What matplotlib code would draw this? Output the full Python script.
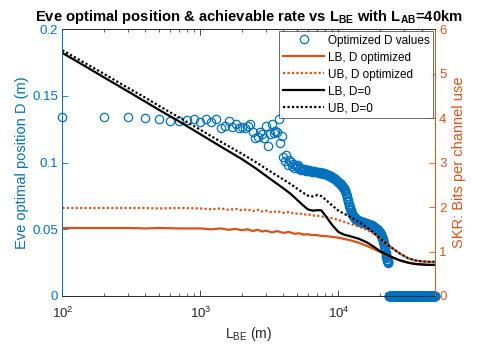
import numpy as np
import matplotlib
matplotlib.use("Agg")
import matplotlib.pyplot as plt
from matplotlib.ticker import FixedLocator, LogLocator, NullFormatter

plt.rcParams['font.family'] = ['Liberation Sans', 'DejaVu Sans']
plt.rcParams['mathtext.fontset'] = 'custom'
plt.rcParams['mathtext.rm'] = 'Liberation Sans'
plt.rcParams['mathtext.it'] = 'Liberation Sans:italic'
plt.rcParams['mathtext.bf'] = 'Liberation Sans:bold'

# ---------------- data ----------------
# scatter: Eve optimal position D (m) at L_BE = 100, 200, ..., 50000 m
L_scatter = np.arange(100, 50001, 100)
D_positive = [
    .1345, .1345, .1343, .1333, .1330, .1312, .1310, .1322, .1325, .1305,
    .1328, .1303, .1325, .1258, .1277, .1313, .1270, .1288, .1258, .1270,
    .1258, .1277, .1288, .1232, .1183, .1195, .1228, .1215, .1187, .1277,
    .1127, .1213, .1288, .1220, .1240, .1228, .1328, .1145, .1200, .1040,
    .1015, .1060, .0985, .1020, .1005, .0975, .0990, .0960, .0980, .0965,
    .0985, .0955, .0960, .0948, .0952, .0945, .0950, .0940, .0945, .0940,
    .0942, .0935, .0940, .0933, .0938, .0930, .0935, .0932, .0928, .0930,
    .0928, .0925, .0928, .0922, .0925, .0920, .0922, .0918, .0920, .0915,
    .0915, .0912, .0910, .0908, .0905, .0903, .0900, .0897, .0893, .0890,
    .0888, .0885, .0882, .0878, .0874, .0870, .0866, .0862, .0858, .0854,
    .0850, .0846, .0842, .0838, .0833, .0828, .0823, .0818, .0812, .0806,
    .0798, .0788, .0776, .0762, .0748, .0734, .0720, .0706, .0692, .0678,
    .0666, .0654, .0643, .0633, .0624, .0616, .0609, .0602, .0596, .0591,
    .0587, .0583, .0580, .0577, .0574, .0572, .0570, .0568, .0566, .0564,
    .0562, .0561, .0560, .0559, .0558, .0557, .0556, .0555, .0554, .0553,
    .0552, .0551, .0550, .0549, .0548, .0547, .0546, .0545, .0544, .0543,
    .0542, .0541, .0540, .0539, .0538, .0537, .0536, .0535, .0534, .0533,
    .0532, .0531, .0530, .0529, .0528, .0527, .0525, .0523, .0521, .0519,
    .0517, .0515, .0513, .0511, .0509, .0507, .0505, .0503, .0501, .0499,
    .0497, .0495, .0493, .0491, .0489, .0486, .0483, .0480, .0477, .0473,
    .0469, .0465, .0461, .0456, .0451, .0446, .0440, .0434, .0427, .0420,
    .0412, .0404, .0396, .0387, .0378, .0368, .0358, .0347, .0336, .0325,
    .0314, .0303, .0292, .0282, .0273, .0266, .0260, .0256, .0253, .0251,
]
D_zero = [0.0] * 270
D_values = D_positive + D_zero

# rate curves with D = 0 (bits per channel use)
L_d0 = [100, 150, 200, 300, 400, 500, 700, 1000, 1500, 2000, 2500, 3000, 3500,
        4000, 4500, 5000, 5500, 6000, 6500, 7000, 7500, 8000, 9000, 10000,
        11000, 12000, 14000, 16000, 18000, 20000, 22000, 25000, 28000, 32000,
        36000, 40000, 45000, 50000]
LB_d0 = [5.47, 5.15, 4.92, 4.60, 4.37, 4.19, 3.93, 3.64, 3.31, 3.08, 2.88, 2.70,
         2.55, 2.42, 2.30, 2.17, 2.05, 1.95, 1.92, 1.93, 1.93, 1.82, 1.60, 1.44,
         1.38, 1.35, 1.29, 1.21, 1.11, 1.01, 0.94, 0.86, 0.80, 0.75, 0.72, 0.71,
         0.70, 0.70]
UB_d0 = [5.53, 5.22, 5.00, 4.68, 4.46, 4.28, 4.02, 3.74, 3.42, 3.20, 3.02, 2.86,
         2.73, 2.62, 2.52, 2.42, 2.33, 2.26, 2.24, 2.27, 2.25, 2.18, 2.04, 1.92,
         1.85, 1.79, 1.67, 1.55, 1.42, 1.30, 1.19, 1.06, 0.95, 0.85, 0.80, 0.78,
         0.77, 0.77]

# rate curves with D optimized
L_opt = [100, 200, 300, 400, 500, 700, 1000, 1200, 1400, 1600, 1800, 2000, 2200,
         2400, 2600, 2800, 3000, 3300, 3600, 4000, 4400, 4800, 5200, 5600, 6000,
         6500, 7000, 7500, 8000, 9000, 10000, 12000, 14000, 16000, 18000, 20000,
         22000, 25000, 28000, 32000, 36000, 40000, 45000, 50000]
LB_opt = [1.53, 1.53, 1.53, 1.52, 1.53, 1.52, 1.52, 1.50, 1.52, 1.49, 1.51, 1.48,
          1.50, 1.46, 1.49, 1.45, 1.47, 1.43, 1.46, 1.42, 1.44, 1.40, 1.41, 1.38,
          1.39, 1.37, 1.37, 1.35, 1.35, 1.33, 1.31, 1.26, 1.20, 1.13, 1.06, 0.99,
          0.93, 0.86, 0.80, 0.75, 0.72, 0.71, 0.70, 0.70]
UB_opt = [1.98, 1.98, 1.98, 1.98, 1.97, 1.98, 1.97, 1.95, 1.97, 1.94, 1.96, 1.93,
          1.95, 1.91, 1.94, 1.90, 1.92, 1.88, 1.91, 1.87, 1.89, 1.85, 1.86, 1.83,
          1.84, 1.81, 1.81, 1.79, 1.78, 1.75, 1.71, 1.63, 1.56, 1.49, 1.40, 1.30,
          1.19, 1.06, 0.95, 0.85, 0.80, 0.78, 0.77, 0.77]

BLUE = '#0072BD'
ORANGE = '#D95319'
DARK = '#262626'

fig = plt.figure(figsize=(4.8, 3.49), dpi=100)
ax = fig.add_axes([0.1298, 0.1519, 0.7762, 0.7641])
ax2 = ax.twinx()

sc, = ax.plot(L_scatter, D_values, 'o', mfc='none', mec=BLUE, ms=6, mew=0.9,
              label='Optimized D values', clip_on=False, zorder=3)
l1, = ax2.plot(L_opt, LB_opt, '-', color=ORANGE, lw=1.6, label='LB, D optimized')
l2, = ax2.plot(L_opt, UB_opt, color=ORANGE, lw=1.6, ls=(0, (1, 1)), label='UB, D optimized')
l3, = ax2.plot(L_d0, LB_d0, '-', color='black', lw=1.6, label='LB, D=0')
l4, = ax2.plot(L_d0, UB_d0, color='black', lw=1.6, ls=(0, (1, 1)), label='UB, D=0')

ax.set_xscale('log')
ax.set_xlim(100, 50000)
ax.set_ylim(0, 0.2)
ax2.set_ylim(0, 6)

ax.set_yticks([0, 0.05, 0.1, 0.15, 0.2])
ax.set_yticklabels(['0', '0.05', '0.1', '0.15', '0.2'])
ax2.set_yticks([0, 1, 2, 3, 4, 5, 6])
ax.xaxis.set_major_locator(FixedLocator([1e2, 1e3, 1e4]))
ax.xaxis.set_minor_locator(LogLocator(base=10, subs=np.arange(2, 10), numticks=20))
ax.xaxis.set_minor_formatter(NullFormatter())

ax.tick_params(axis='x', which='both', direction='in', top=True, colors=DARK,
               labelsize=9.5, pad=7)
ax.tick_params(axis='x', which='major', length=4, width=0.6)
ax.tick_params(axis='x', which='minor', length=2.2, width=0.5)
ax.tick_params(axis='y', direction='in', colors=BLUE, labelsize=9.5, length=4,
               width=0.6, pad=3)
ax2.tick_params(axis='y', direction='in', colors=ORANGE, labelsize=9.5, length=4,
                width=0.6, pad=3)

for a in (ax, ax2):
    a.spines['top'].set_color(DARK)
    a.spines['bottom'].set_color(DARK)
    for s in a.spines.values():
        s.set_linewidth(0.6)
ax.spines['left'].set_color(BLUE)
ax2.spines['left'].set_color(BLUE)
ax.spines['right'].set_color(ORANGE)
ax2.spines['right'].set_color(ORANGE)

ax.set_xlabel(r'L$_{\mathrm{BE}}$ (m)', fontsize=10, color=DARK, labelpad=3)
ax.set_ylabel('Eve optimal position D (m)', fontsize=10.5, color=BLUE, labelpad=2)
ax2.set_ylabel('SKR: Bits per channel use', fontsize=10.5, color=ORANGE, labelpad=4)
ax.set_title(r'Eve optimal position & achievable rate vs L$_{\mathbf{BE}}$ with L$_{\mathbf{AB}}$=40km',
             fontsize=10.6, fontweight='bold', pad=6)

leg = ax2.legend(handles=[sc, l1, l2, l3, l4], loc='upper right', fontsize=8.5,
                 frameon=True, fancybox=False, edgecolor=DARK, borderaxespad=0.15,
                 handlelength=3.5, labelspacing=0.42, handletextpad=0.3,
                 borderpad=0.3)
leg.get_frame().set_linewidth(0.6)

fig.savefig('out.png', dpi=100)
